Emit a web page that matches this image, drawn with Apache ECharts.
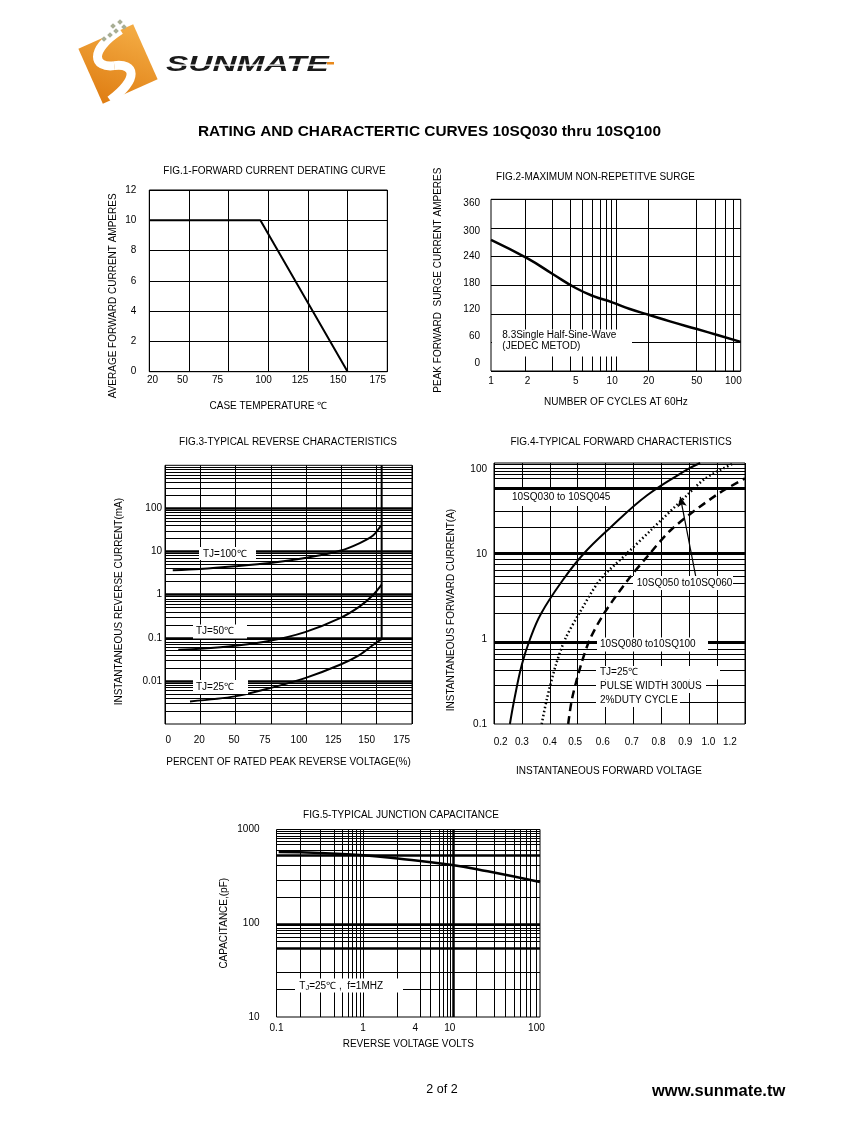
<!DOCTYPE html>
<html><head><meta charset="utf-8">
<script src="https://cdn.jsdelivr.net/npm/echarts@6/dist/echarts.min.js"></script>
<style>html,body{margin:0;padding:0;background:#fff}#c{width:847px;height:1125px}</style>
</head><body><div id="c"></div>
<script>
// ================= DATA =================
// Fig.1 forward current derating
const fig1XLabels = ['20','50','75','100','125','150','175'];
const fig1XLabelPos = [27, 46, 68, 97, 120, 144, 169];
const fig1Temp = [25, 95, 150];
const fig1Amps = [10, 10, 0];

// Fig.2 max non-repetitive surge
const fig2XLabels = ['1','2','5','10','20','50','100'];
const fig2XLabelPos = [1, 2, 5, 10, 20, 50, 100];
const fig2YLabels = ['0','60','120','180','240','300','360'];
const fig2YLabelPos = [17, 73, 130, 185, 240, 294, 352];
const fig2XGrid = [1.93, 3.2, 4.5, 5.7, 6.9, 7.9, 8.9, 9.9, 10.8, 20, 49, 71, 85, 100];
const fig2Cycles = [1, 2, 3.2, 5, 7, 10, 14, 20, 30, 50, 75, 115];
const fig2Surge = [275, 236, 204, 174, 157, 144, 130, 118, 104, 88, 75, 61];

// Fig.3 typical reverse characteristics
const fig3XLabels = ['0','20','50','75','100','125','150','175'];
const fig3XLabelPos = [2.3, 24.3, 48.9, 70.8, 94.9, 119.2, 142.9, 167.7];
const fig3YLabels = ['0.01','0.1','1','10','100'];
const fig3YLabelPos = [0.01, 0.1, 1, 10, 100];
const fig3YMajor = [0.01, 0.1, 1, 10, 100];
const fig3Pct100 = [5.5, 24.8, 49.6, 74.4, 99.2, 124, 138, 147.6, 153];
const fig3Ir100 = [3.66, 3.93, 4.54, 5.41, 7.06, 10.4, 15.7, 23.8, 40];
const fig3Pct50 = [9.4, 24.8, 49.6, 74.4, 99.2, 124, 138, 147.6, 153.5];
const fig3Ir50 = [0.0527, 0.0556, 0.0652, 0.0851, 0.1355, 0.286, 0.535, 0.995, 1.70];
const fig3Pct25 = [17.7, 49.6, 74.4, 99.2, 124, 138, 147.6, 153.5];
const fig3Ir25 = [0.00334, 0.00437, 0.0068, 0.0116, 0.0237, 0.0403, 0.0688, 0.093];
const fig3BreakPct = [153.5, 153.5];
const fig3BreakIr = [0.093, 1000];

// Fig.4 typical forward characteristics
const fig4XLabels = ['0.2','0.3','0.4','0.5','0.6','0.7','0.8','0.9','1.0','1.2'];
const fig4XLabelPos = [0.224, 0.3, 0.4, 0.491, 0.59, 0.694, 0.79, 0.886, 0.969, 1.046];
const fig4YLabels = ['0.1','1','10','100'];
const fig4YLabelPos = [0.1, 1, 10, 100];
const fig4YThin = [0.18, 0.29, 0.43, 0.575, 0.67, 0.77, 2, 3.2, 4.6, 5.6, 6.6, 7.7, 8.8, 21, 32.5, 80, 88, 96, 105, 115];
const fig4YThick = [0.93, 10.2, 61];
const fig4Current = [0.1, 0.2, 0.5, 1, 2, 5, 10, 20, 50, 100, 120];
const fig4VfA = [0.257, 0.2735, 0.2997, 0.329, 0.3685, 0.447, 0.519, 0.612, 0.749, 0.892, 0.939];
const fig4CurrentB = [0.1, 0.2, 0.5, 1, 2, 5, 10, 20, 50, 80, 118];
const fig4VfB = [0.371, 0.390, 0.422, 0.455, 0.505, 0.580, 0.673, 0.767, 0.892, 0.960, 1.057];
const fig4CurrentC = [0.1, 0.2, 0.5, 1, 2, 5, 10, 20, 50, 79];
const fig4VfC = [0.466, 0.480, 0.512, 0.544, 0.594, 0.680, 0.756, 0.838, 0.996, 1.1];
const fig4ArrowFrom = [0.927, 4.79];
const fig4ArrowTo = [0.868, 47.9];

// Fig.5 typical junction capacitance
const fig5XLabels = ['0.1','1','4','10','100'];
const fig5XLabelPos = [0.1, 1, 4, 10, 100];
const fig5YLabels = ['10','100','1000'];
const fig5YLabelPos = [10, 100, 1000];
const fig5XThin = [0.19, 0.32, 0.46, 0.58, 0.67, 0.75, 0.84, 0.92, 1, 2.5, 4.6, 6, 7.5, 8.4, 9.4, 10.2, 20, 33, 44, 55, 65, 76, 86, 99];
const fig5XThick = [11.1];
const fig5YThin = [20, 30, 64, 71, 79, 84, 89, 95, 191, 287, 415, 600, 688, 748, 798, 853, 902, 955];
const fig5YThick = [53.6, 98, 528];
const fig5Volts = [0.106, 0.322, 1.02, 2.96, 10.2, 27.4, 110];
const fig5Cap = [575, 561, 531, 481, 421, 358, 275];

// ================= HELPERS =================
const FONT = "'Liberation Sans', Arial, Helvetica, sans-serif";
const zip = (a, b) => a.map((v, i) => [v, b[i]]);
function fmt(labels, pos) {
  return function (v) {
    for (let i = 0; i < pos.length; i++) {
      if (Math.abs(v - pos[i]) <= Math.abs(pos[i]) * 2e-3 + 1e-9) return labels[i];
    }
    return '';
  };
}
const txt = { color: '#000', fontSize: 10, fontFamily: FONT };
function axis(o) {
  const a = {
    gridIndex: o.grid, type: o.type || 'value', min: o.min, max: o.max,
    axisLine: { show: false },
    axisTick: { show: false },
    splitLine: { show: true, lineStyle: { color: '#000', width: o.lineWidth || 1 } },
    axisLabel: { show: false }
  };
  if (o.type === 'log') a.logBase = 10;
  if (o.interval) a.interval = o.interval;
  if (o.ticks) a.axisTick.customValues = o.ticks;
  if (o.labels) {
    a.axisLabel = Object.assign({ show: true, customValues: o.labelPos, formatter: fmt(o.labels, o.labelPos), margin: o.margin }, txt);
  }
  if (o.name) {
    a.name = o.name; a.nameLocation = 'middle'; a.nameGap = o.nameGap;
    a.nameTextStyle = Object.assign({ padding: o.namePad || 0 }, txt);
  }
  return a;
}
function gridBox(l, t, w, h) {
  return { left: l, top: t, width: w, height: h, show: true, borderColor: '#000', borderWidth: 1,
           backgroundColor: 'transparent', containLabel: false, outerBoundsMode: 'none' };
}
function line(xi, yi, data, style, extra) {
  return Object.assign({ type: 'line', xAxisIndex: xi, yAxisIndex: yi, data: data, symbol: 'none',
    silent: true, lineStyle: Object.assign({ color: '#000', width: 2 }, style) }, extra || {});
}
const SMOOTH = { smooth: 0.3 };
function box(x, y, w, h) {
  return { type: 'rect', z: 10, silent: true, shape: { x: x, y: y, width: w, height: h }, style: { fill: '#fff' } };
}
function label(text, x, y, opt) {
  opt = opt || {};
  return { type: 'text', z: 11, silent: true, x: x, y: y,
    style: { text: text, fill: '#000', fontSize: opt.size || 10, fontFamily: FONT, fontWeight: opt.weight || 'normal',
             align: opt.align || 'left', textAlign: opt.align || 'left', verticalAlign: 'middle', textVerticalAlign: 'middle',
             lineHeight: opt.lh || 12 } };
}
function dot(x, y) {
  return { type: 'rect', x: x, y: y, rotation: 0.78, silent: true, shape: { x: -2, y: -2, width: 4, height: 4 }, style: { fill: '#a8ae94' } };
}
const fig3YMinor = [];
[0.001, 0.01, 0.1, 1, 10, 100].forEach(d => { for (let m = 2; m <= 9; m++) fig3YMinor.push(+(m * d).toPrecision(3)); });

// ================= OPTION =================
const option = {
  animation: false,
  backgroundColor: '#fff',
  title: {
    text: 'RATING AND CHARACTERTIC CURVES 10SQ030 thru 10SQ100', left: 198, top: 124, padding: 0,
    textStyle: { fontSize: 15.4, fontWeight: 'bold', color: '#000', fontFamily: FONT }
  },
  grid: [
    gridBox(149.3, 190, 238, 181.7),
    gridBox(491, 199.3, 249.7, 171.7),
    gridBox(165, 465.3, 247, 258.7),
    gridBox(494, 463, 251, 261),
    gridBox(276.5, 829.5, 263.5, 187.5)
  ],
  xAxis: [
    axis({ grid: 0, min: 25, max: 175, interval: 25, labels: fig1XLabels, labelPos: fig1XLabelPos, margin: 4,
           name: 'CASE TEMPERATURE ℃', nameGap: 30 }),
    axis({ grid: 1, type: 'log', min: 1, max: 115, ticks: fig2XGrid, labels: fig2XLabels, labelPos: fig2XLabelPos, margin: 5,
           name: 'NUMBER OF CYCLES AT 60Hz', nameGap: 26 }),
    axis({ grid: 2, min: 0, max: 175, interval: 25, labels: fig3XLabels, labelPos: fig3XLabelPos, margin: 11,
           name: 'PERCENT OF RATED PEAK REVERSE VOLTAGE(%)', nameGap: 33 }),
    axis({ grid: 3, min: 0.2, max: 1.1, interval: 0.1, labels: fig4XLabels, labelPos: fig4XLabelPos, margin: 13,
           name: 'INSTANTANEOUS FORWARD VOLTAGE', nameGap: 42, namePad: [0, 21, 0, 0] }),
    axis({ grid: 4, type: 'log', min: 0.1, max: 110, ticks: fig5XThin, labels: fig5XLabels, labelPos: fig5XLabelPos, margin: 6,
           name: 'REVERSE VOLTAGE VOLTS', nameGap: 22 }),
    axis({ grid: 4, type: 'log', min: 0.1, max: 110, ticks: fig5XThick, lineWidth: 2.5 })
  ],
  yAxis: [
    axis({ grid: 0, min: 0, max: 12, interval: 2, labels: ['0','2','4','6','8','10','12'], labelPos: [0,2,4,6,8,10,12], margin: 13,
           name: 'AVERAGE FORWARD CURRENT AMPERES', nameGap: 31, namePad: [0, 30, 0, 0] }),
    axis({ grid: 1, min: 0, max: 360, interval: 60, labels: fig2YLabels, labelPos: fig2YLabelPos, margin: 11,
           name: 'PEAK FORWARD  SURGE CURRENT AMPERES', nameGap: 48, namePad: [0, 0, 0, 10] }),
    axis({ grid: 2, type: 'log', min: 0.001, max: 1000, ticks: fig3YMinor, labels: fig3YLabels, labelPos: fig3YLabelPos, margin: 3,
           name: 'INSTANTANEOUS REVERSE CURRENT(mA)', nameGap: 41, namePad: [0, 14, 0, 0] }),
    axis({ grid: 2, type: 'log', min: 0.001, max: 1000, ticks: fig3YMajor, lineWidth: 2.5 }),
    axis({ grid: 3, type: 'log', min: 0.1, max: 120, ticks: fig4YThin, labels: fig4YLabels, labelPos: fig4YLabelPos, margin: 7,
           name: 'INSTANTANEOUS FORWARD CURRENT(A)', nameGap: 38, namePad: [0, 33, 0, 0] }),
    axis({ grid: 3, type: 'log', min: 0.1, max: 120, ticks: fig4YThick, lineWidth: 3 }),
    axis({ grid: 4, type: 'log', min: 10, max: 1000, ticks: fig5YThin, labels: fig5YLabels, labelPos: fig5YLabelPos, margin: 17,
           name: 'CAPACITANCE,(pF)', nameGap: 47 }),
    axis({ grid: 4, type: 'log', min: 10, max: 1000, ticks: fig5YThick, lineWidth: 2.5 })
  ],
  series: [
    line(0, 0, zip(fig1Temp, fig1Amps), { width: 2 }),
    line(1, 1, zip(fig2Cycles, fig2Surge), { width: 2.5 }, { smooth: 0.5 }),
    line(2, 2, zip(fig3Pct100, fig3Ir100), { width: 2 }, SMOOTH),
    line(2, 2, zip(fig3Pct50, fig3Ir50), { width: 2 }, SMOOTH),
    line(2, 2, zip(fig3Pct25, fig3Ir25), { width: 2 }, SMOOTH),
    line(2, 2, zip(fig3BreakPct, fig3BreakIr), { width: 2 }),
    line(3, 4, zip(fig4VfA, fig4Current), { width: 2 }, { smooth: 0.4 }),
    line(3, 4, zip(fig4VfB, fig4CurrentB), { width: 2.5, type: [1.5, 2.5] }, Object.assign({
      markLine: { silent: true, symbol: ['none', 'arrow'], symbolSize: [7, 10], label: { show: false },
        lineStyle: { color: '#000', width: 1.2, type: 'solid' },
        data: [[{ coord: fig4ArrowFrom }, { coord: fig4ArrowTo }]] } }, SMOOTH)),
    line(3, 4, zip(fig4VfC, fig4CurrentC), { width: 2.5, type: [8, 5] }, SMOOTH),
    line(4, 6, zip(fig5Volts, fig5Cap), { width: 2.5 }, { smooth: 0.5 })
  ],
  graphic: [
    // logo
    { type: 'group', x: 118, y: 64, rotation: 0.42, silent: true, children: [
      { type: 'rect', shape: { x: -30, y: -30, width: 60, height: 60 },
        style: { fill: new echarts.graphic.LinearGradient(1, 0, 0, 1, [{ offset: 0, color: '#f4ad45' }, { offset: 1, color: '#df7d12' }]) } },
      { type: 'bezierCurve', shape: { x1: 16, y1: -30, cpx1: -22, cpy1: -24, cpx2: -24, cpy2: -6, x2: -4, y2: 0 },
        style: { fill: 'none', stroke: '#fff', lineWidth: 9 } },
      { type: 'bezierCurve', shape: { x1: -4, y1: 0, cpx1: 16, cpy1: 6, cpx2: 14, cpy2: 22, x2: -22, y2: 30 },
        style: { fill: 'none', stroke: '#fff', lineWidth: 9 } }
    ] },
    dot(104, 39), dot(110, 35), dot(116, 31), dot(113, 26), dot(120, 22), dot(124, 27),
    { type: 'text', x: 166, y: 65, scaleX: 1.52, silent: true,
      style: { text: 'SUNMATE', fill: '#1a1a1a', fontSize: 22, fontStyle: 'italic', fontWeight: 900, fontFamily: FONT,
               align: 'left', verticalAlign: 'middle', textAlign: 'left', textVerticalAlign: 'middle' } },
    { type: 'rect', z: 5, silent: true, shape: { x: 168, y: 64.5, width: 168, height: 1.3 }, style: { fill: '#fff' } },
    { type: 'rect', silent: true, shape: { x: 327, y: 62, width: 7, height: 3 }, style: { fill: '#e8891c' } },

    // figure titles
    label('FIG.1-FORWARD CURRENT DERATING CURVE', 274.5, 171.7, { align: 'center' }),
    label('FIG.2-MAXIMUM NON-REPETITVE SURGE', 595.5, 177.3, { align: 'center' }),
    label('FIG.3-TYPICAL REVERSE CHARACTERISTICS', 288, 442.7, { align: 'center' }),
    label('FIG.4-TYPICAL FORWARD CHARACTERISTICS', 621, 442.7, { align: 'center' }),
    label('FIG.5-TYPICAL JUNCTION CAPACITANCE', 401, 815, { align: 'center' }),

    // fig2 note
    box(492, 329.5, 140, 27),
    label('8.3Single Half-Sine-Wave\n(JEDEC METOD)', 502.3, 341.2, { lh: 11 }),

    // fig3 notes
    box(199, 547, 57, 13), label('TJ=100℃', 203, 554),
    box(193, 624.5, 54, 14), label('TJ=50℃', 196, 631.3),
    box(193, 680, 55, 14), label('TJ=25℃', 196, 687.3),

    // fig4 notes
    box(495, 490, 127, 16), label('10SQ030 to 10SQ045', 512, 497),
    box(633, 576, 100, 14), label('10SQ050 to10SQ060', 636.7, 583.3),
    box(597, 637.5, 111, 14), label('10SQ080 to10SQ100', 600, 644.3),
    box(596, 666, 124, 13.5), label('TJ=25℃', 600, 672.7),
    box(596, 679.5, 110, 13.5), label('PULSE WIDTH 300US', 600, 686.7),
    box(596, 693, 84, 14), label('2%DUTY CYCLE', 600, 700),

    // fig5 note
    box(295, 978.5, 108, 14),
    { type: 'text', z: 11, silent: true, x: 299.3, y: 986.3,
      style: { text: '{n|T}{s|J}{n|=25℃ ,  f=1MHZ}', fill: '#000', fontFamily: FONT, fontSize: 10,
               align: 'left', verticalAlign: 'middle', textAlign: 'left', textVerticalAlign: 'middle',
               rich: { n: { fontSize: 10, fontFamily: FONT, fill: '#000' }, s: { fontSize: 7.5, fontFamily: FONT, fill: '#000', padding: [3, 0, 0, 0] } } } },

    // footer
    label('2 of 2', 442, 1090, { align: 'center', size: 12.5 }),
    label('www.sunmate.tw', 652, 1091, { size: 16.5, weight: 'bold' })
  ]
};

const chart = echarts.init(document.getElementById('c'), null, { renderer: 'canvas', width: 847, height: 1125 });
chart.setOption(option);
</script>
</body></html>
